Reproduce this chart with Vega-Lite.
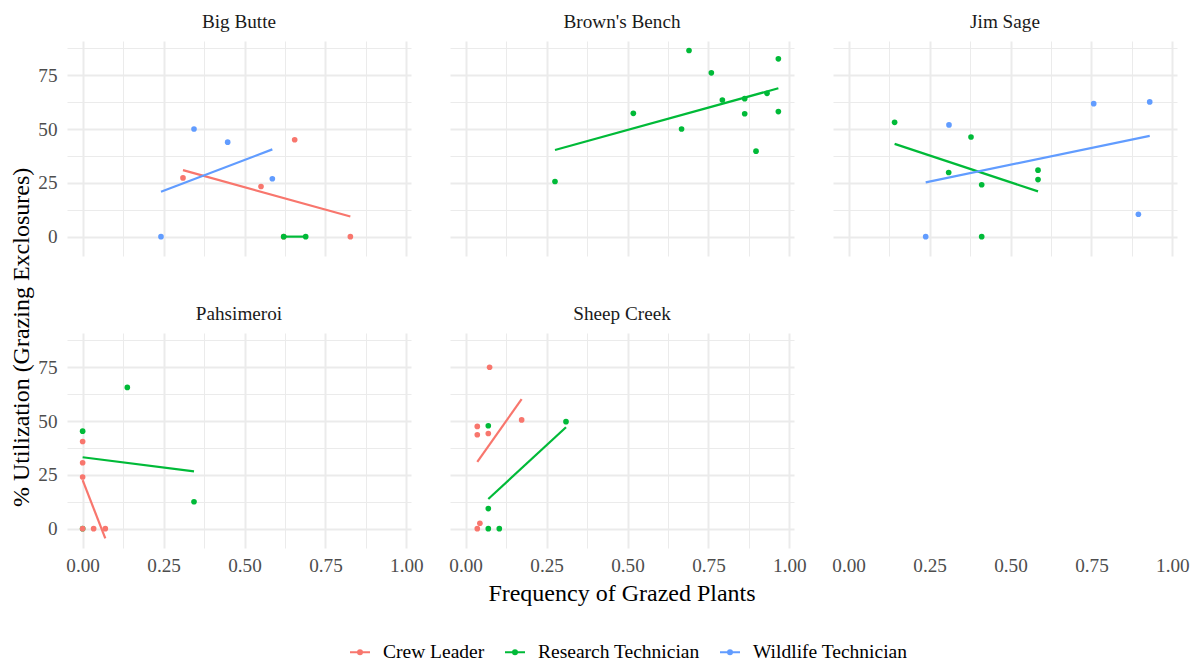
{
  "$schema": "https://vega.github.io/schema/vega-lite/v6.json",
  "background": "white",
  "padding": {"left": 9, "top": 12, "right": 10, "bottom": 5},
  "data": {
    "values": [
      {"site": "Big Butte", "role": "Crew Leader", "freq": 0.310, "util": 27.3},
      {"site": "Big Butte", "role": "Crew Leader", "freq": 0.551, "util": 23.3},
      {"site": "Big Butte", "role": "Crew Leader", "freq": 0.655, "util": 45.0},
      {"site": "Big Butte", "role": "Crew Leader", "freq": 0.827, "util": 0},
      {"site": "Big Butte", "role": "Crew Leader", "freq": 0.621, "util": 0},
      {"site": "Big Butte", "role": "Research Technician", "freq": 0.621, "util": 0},
      {"site": "Big Butte", "role": "Research Technician", "freq": 0.689, "util": 0},
      {"site": "Big Butte", "role": "Wildlife Technician", "freq": 0.242, "util": 0},
      {"site": "Big Butte", "role": "Wildlife Technician", "freq": 0.344, "util": 50.0},
      {"site": "Big Butte", "role": "Wildlife Technician", "freq": 0.448, "util": 43.9},
      {"site": "Big Butte", "role": "Wildlife Technician", "freq": 0.586, "util": 26.9},

      {"site": "Brown's Bench", "role": "Research Technician", "freq": 0.276, "util": 25.6},
      {"site": "Brown's Bench", "role": "Research Technician", "freq": 0.518, "util": 57.3},
      {"site": "Brown's Bench", "role": "Research Technician", "freq": 0.667, "util": 50.0},
      {"site": "Brown's Bench", "role": "Research Technician", "freq": 0.690, "util": 86.5},
      {"site": "Brown's Bench", "role": "Research Technician", "freq": 0.759, "util": 76.1},
      {"site": "Brown's Bench", "role": "Research Technician", "freq": 0.793, "util": 63.5},
      {"site": "Brown's Bench", "role": "Research Technician", "freq": 0.862, "util": 64.1},
      {"site": "Brown's Bench", "role": "Research Technician", "freq": 0.862, "util": 57.1},
      {"site": "Brown's Bench", "role": "Research Technician", "freq": 0.897, "util": 39.7},
      {"site": "Brown's Bench", "role": "Research Technician", "freq": 0.931, "util": 66.6},
      {"site": "Brown's Bench", "role": "Research Technician", "freq": 0.966, "util": 82.6},
      {"site": "Brown's Bench", "role": "Research Technician", "freq": 0.966, "util": 58.1},

      {"site": "Jim Sage", "role": "Research Technician", "freq": 0.142, "util": 53.1},
      {"site": "Jim Sage", "role": "Research Technician", "freq": 0.309, "util": 29.8},
      {"site": "Jim Sage", "role": "Research Technician", "freq": 0.378, "util": 46.3},
      {"site": "Jim Sage", "role": "Research Technician", "freq": 0.411, "util": 24.1},
      {"site": "Jim Sage", "role": "Research Technician", "freq": 0.411, "util": 0},
      {"site": "Jim Sage", "role": "Research Technician", "freq": 0.585, "util": 30.9},
      {"site": "Jim Sage", "role": "Research Technician", "freq": 0.585, "util": 26.5},
      {"site": "Jim Sage", "role": "Wildlife Technician", "freq": 0.238, "util": 0},
      {"site": "Jim Sage", "role": "Wildlife Technician", "freq": 0.310, "util": 51.9},
      {"site": "Jim Sage", "role": "Wildlife Technician", "freq": 0.757, "util": 61.8},
      {"site": "Jim Sage", "role": "Wildlife Technician", "freq": 0.895, "util": 10.4},
      {"site": "Jim Sage", "role": "Wildlife Technician", "freq": 0.930, "util": 62.6},

      {"site": "Pahsimeroi", "role": "Research Technician", "freq": 0, "util": 45.3},
      {"site": "Pahsimeroi", "role": "Research Technician", "freq": 0.138, "util": 65.6},
      {"site": "Pahsimeroi", "role": "Research Technician", "freq": 0.344, "util": 12.5},
      {"site": "Pahsimeroi", "role": "Research Technician", "freq": 0, "util": 0},
      {"site": "Pahsimeroi", "role": "Crew Leader", "freq": 0, "util": 40.5},
      {"site": "Pahsimeroi", "role": "Crew Leader", "freq": 0, "util": 30.6},
      {"site": "Pahsimeroi", "role": "Crew Leader", "freq": 0, "util": 24.0},
      {"site": "Pahsimeroi", "role": "Crew Leader", "freq": 0, "util": 0},
      {"site": "Pahsimeroi", "role": "Crew Leader", "freq": 0.034, "util": 0},
      {"site": "Pahsimeroi", "role": "Crew Leader", "freq": 0.070, "util": 0},

      {"site": "Sheep Creek", "role": "Crew Leader", "freq": 0.074, "util": 75.0},
      {"site": "Sheep Creek", "role": "Crew Leader", "freq": 0.036, "util": 47.5},
      {"site": "Sheep Creek", "role": "Crew Leader", "freq": 0.036, "util": 43.6},
      {"site": "Sheep Creek", "role": "Crew Leader", "freq": 0.070, "util": 44.2},
      {"site": "Sheep Creek", "role": "Crew Leader", "freq": 0.173, "util": 50.5},
      {"site": "Sheep Creek", "role": "Crew Leader", "freq": 0.036, "util": 0},
      {"site": "Sheep Creek", "role": "Crew Leader", "freq": 0.044, "util": 2.5},
      {"site": "Sheep Creek", "role": "Research Technician", "freq": 0.070, "util": 47.8},
      {"site": "Sheep Creek", "role": "Research Technician", "freq": 0.310, "util": 49.7},
      {"site": "Sheep Creek", "role": "Research Technician", "freq": 0.070, "util": 9.3},
      {"site": "Sheep Creek", "role": "Research Technician", "freq": 0.070, "util": 0},
      {"site": "Sheep Creek", "role": "Research Technician", "freq": 0.104, "util": 0}
    ]
  },
  "title": {
    "text": "% Utilization (Grazing Exclosures)",
    "orient": "left",
    "anchor": "middle",
    "font": "Liberation Serif",
    "fontSize": 24,
    "fontWeight": "normal",
    "color": "black",
    "offset": 4
  },
  "facet": {
    "field": "site",
    "type": "nominal",
    "sort": ["Big Butte", "Brown's Bench", "Jim Sage", "Pahsimeroi", "Sheep Creek"],
    "header": {
      "title": "Frequency of Grazed Plants",
      "titleOrient": "bottom",
      "titleFont": "Liberation Serif",
      "titleFontSize": 24,
      "titleFontWeight": "normal",
      "titleColor": "black",
      "titlePadding": 6,
      "labelFont": "Liberation Serif",
      "labelFontSize": 19.2,
      "labelColor": "#1A1A1A",
      "labelPadding": 9
    }
  },
  "columns": 3,
  "spacing": {"column": 39, "row": 48},
  "spec": {
    "width": 344,
    "height": 215,
    "encoding": {
      "x": {
        "field": "freq",
        "type": "quantitative",
        "scale": {"domain": [-0.0483, 1.0143], "nice": false, "zero": false},
        "axis": {
          "title": null,
          "values": [0, 0.125, 0.25, 0.375, 0.5, 0.625, 0.75, 0.875, 1],
          "labelExpr": "(datum.value * 4) % 1 === 0 ? format(datum.value, '.2f') : ''",
          "gridWidth": {"condition": {"test": "(datum.value * 4) % 1 === 0", "value": 2}, "value": 1},
          "labelPadding": 8
        }
      },
      "y": {
        "field": "util",
        "type": "quantitative",
        "scale": {"domain": [-9.0, 90.9], "nice": false, "zero": false},
        "axis": {
          "title": null,
          "values": [0, 12.5, 25, 37.5, 50, 62.5, 75, 87.5],
          "labelExpr": "datum.value % 25 === 0 ? format(datum.value, 'd') : ''",
          "gridWidth": {"condition": {"test": "datum.value % 25 === 0", "value": 2}, "value": 1},
          "labelPadding": 10
        }
      },
      "color": {
        "field": "role",
        "type": "nominal",
        "scale": {
          "domain": ["Crew Leader", "Research Technician", "Wildlife Technician"],
          "range": ["#F8766D", "#00BA38", "#619CFF"]
        },
        "legend": {
          "title": null,
          "orient": "none",
          "legendX": 282,
          "legendY": 600,
          "direction": "horizontal",
          "symbolType": "M-1,0H1M-0.2,0a0.2,0.2 0 1,0 0.4,0a0.2,0.2 0 1,0 -0.4,0",
          "symbolSize": 400,
          "symbolStrokeWidth": 2,
          "labelFont": "Liberation Serif",
          "labelFontSize": 19.5,
          "labelColor": "black",
          "labelLimit": 0,
          "labelOffset": 12,
          "columnPadding": 16,
          "encode": {
            "symbols": {
              "update": {
                "fill": {"scale": "color", "field": "value"},
                "stroke": {"scale": "color", "field": "value"},
                "opacity": {"value": 1}
              }
            }
          }
        }
      }
    },
    "layer": [
      {
        "mark": {"type": "point", "filled": true, "size": 32, "opacity": 1}
      },
      {
        "transform": [{"regression": "util", "on": "freq", "groupby": ["site", "role"]}],
        "mark": {"type": "line", "strokeWidth": 2.2}
      }
    ]
  },
  "config": {
    "view": {"stroke": null},
    "axis": {
      "domain": false,
      "ticks": false,
      "gridColor": "#EBEBEB",
      "labelFont": "Liberation Serif",
      "labelFontSize": 19.2,
      "labelColor": "#4D4D4D",
      "labelOverlap": false,
      "labelFlush": false,
      "labelBound": false
    }
  }
}
